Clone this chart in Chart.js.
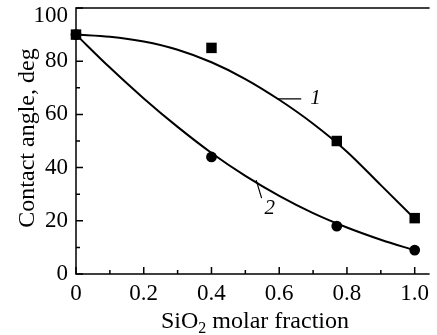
<!DOCTYPE html>
<html>
<head>
<meta charset="utf-8">
<script src="https://cdn.jsdelivr.net/npm/chart.js@4"></script>
<style>
  html, body { margin: 0; padding: 0; background: #fff; }
</style>
</head>
<body>
<canvas id="grafico" width="437" height="335"></canvas>
<script>
// ticks
const xTicks = [0, 0.2, 0.4, 0.6, 0.8, 1.0];
const xTickLabels = ['0', '0.2', '0.4', '0.6', '0.8', '1.0'];
const xMinor = [0.1, 0.3, 0.5, 0.7, 0.9];
const yTicks = [0, 20, 40, 60, 80, 100];
const yMinor = [10, 30, 50, 70, 90];

// measured points
const fracMeasured = [0, 0.4, 0.77, 1.0];
const angle1 = [90, 85, 50, 21];
const angle2 = [90, 44, 18, 9];

// fitted curves
const fracCurve = [0, 0.1, 0.2, 0.3, 0.4, 0.5, 0.6, 0.7, 0.8, 0.9, 1.0];
const curve1 = [90, 89.2, 87.4, 84.3, 79.6, 73.3, 65.5, 56.5, 46.0, 33.4, 20.8];
const curve2 = [90, 77.6, 66.0, 55.3, 45.5, 36.9, 29.4, 22.9, 17.5, 12.9, 8.9];

const pts = (xs, ys) => xs.map((x, i) => ({ x: x, y: ys[i] }));
const serif = '"Liberation Serif", "Times New Roman", serif';

// axes, ticks, labels drawn by hand (ticks point inward)
const decor = {
  id: 'decor',
  afterDraw(chart) {
    const { ctx, chartArea: a, scales: { x, y } } = chart;
    ctx.save();
    ctx.strokeStyle = '#000';
    ctx.fillStyle = '#000';
    ctx.lineWidth = 1.5;
    ctx.beginPath();
    ctx.moveTo(a.right, a.top); ctx.lineTo(a.left, a.top);
    ctx.lineTo(a.left, a.bottom); ctx.lineTo(a.right, a.bottom);
    ctx.stroke();

    ctx.beginPath();
    xTicks.forEach(v => { const p = x.getPixelForValue(v); ctx.moveTo(p, a.bottom); ctx.lineTo(p, a.bottom - 7); });
    xMinor.forEach(v => { const p = x.getPixelForValue(v); ctx.moveTo(p, a.bottom); ctx.lineTo(p, a.bottom - 4); });
    yTicks.forEach(v => { const p = y.getPixelForValue(v); ctx.moveTo(a.left, p); ctx.lineTo(a.left + 7, p); });
    yMinor.forEach(v => { const p = y.getPixelForValue(v); ctx.moveTo(a.left, p); ctx.lineTo(a.left + 4, p); });
    ctx.stroke();

    ctx.font = '23px ' + serif;
    ctx.textAlign = 'center';
    ctx.textBaseline = 'alphabetic';
    xTicks.forEach((v, i) => ctx.fillText(xTickLabels[i], x.getPixelForValue(v), 300));
    ctx.textAlign = 'right';
    ctx.textBaseline = 'middle';
    yTicks.forEach(v => ctx.fillText(String(v), a.left - 8, Math.max(y.getPixelForValue(v), a.top + 8)));

    // y title
    ctx.save();
    ctx.translate(34, 138);
    ctx.rotate(-Math.PI / 2);
    ctx.font = '24px ' + serif;
    ctx.textAlign = 'center';
    ctx.textBaseline = 'alphabetic';
    ctx.fillText('Contact angle, deg', 0, 0);
    ctx.restore();

    // x title with subscript
    ctx.textBaseline = 'alphabetic';
    ctx.textAlign = 'left';
    const t1 = 'SiO', t2 = ' molar fraction';
    ctx.font = '24px ' + serif;
    const w1 = ctx.measureText(t1).width, w3 = ctx.measureText(t2).width;
    ctx.font = '16px ' + serif;
    const w2 = ctx.measureText('2').width;
    const cx = 255 - (w1 + w2 + w3) / 2;
    ctx.font = '24px ' + serif;
    ctx.fillText(t1, cx, 328);
    ctx.font = '16px ' + serif;
    ctx.fillText('2', cx + w1, 333);
    ctx.font = '24px ' + serif;
    ctx.fillText(t2, cx + w1 + w2, 328);

    // curve labels
    ctx.lineWidth = 1.2;
    ctx.beginPath();
    ctx.moveTo(x.getPixelForValue(0.595), y.getPixelForValue(65.8));
    ctx.lineTo(x.getPixelForValue(0.665), y.getPixelForValue(65.8));
    ctx.moveTo(x.getPixelForValue(0.532), y.getPixelForValue(35.3));
    ctx.lineTo(x.getPixelForValue(0.548), y.getPixelForValue(28.5));
    ctx.stroke();
    ctx.font = 'italic 21px ' + serif;
    ctx.textAlign = 'center';
    ctx.textBaseline = 'middle';
    ctx.fillText('1', x.getPixelForValue(0.707), y.getPixelForValue(66));
    ctx.fillText('2', x.getPixelForValue(0.572), y.getPixelForValue(24.5));
    ctx.restore();
  }
};

const ctx = document.getElementById('grafico').getContext('2d');
const chart = new Chart(ctx, {
  type: 'scatter',
  data: {
    datasets: [
      { data: pts(fracCurve, curve1), showLine: true, borderColor: '#000', borderWidth: 2,
        pointRadius: 0, cubicInterpolationMode: 'monotone', clip: false },
      { data: pts(fracCurve, curve2), showLine: true, borderColor: '#000', borderWidth: 2,
        pointRadius: 0, cubicInterpolationMode: 'monotone', clip: false },
      { data: pts(fracMeasured, angle1), pointStyle: 'rect', pointRadius: 7.4,
        backgroundColor: '#000', borderColor: '#000', borderWidth: 0, clip: false },
      { data: pts(fracMeasured, angle2), pointStyle: 'circle', pointRadius: 5.4,
        backgroundColor: '#000', borderColor: '#000', borderWidth: 0, clip: false }
    ]
  },
  options: {
    responsive: false,
    animation: false,
    layout: { padding: { top: 8, left: 0, right: 0, bottom: 0 } },
    plugins: { legend: { display: false }, tooltip: { enabled: false } },
    scales: {
      x: { type: 'linear', min: 0, max: 1.044,
           ticks: { display: false }, grid: { display: false }, border: { display: false },
           afterFit: s => { s.height = 61; } },
      y: { type: 'linear', min: 0, max: 100,
           ticks: { display: false }, grid: { display: false }, border: { display: false },
           afterFit: s => { s.width = 76; } }
    }
  },
  plugins: [decor]
});
</script>
</body>
</html>
